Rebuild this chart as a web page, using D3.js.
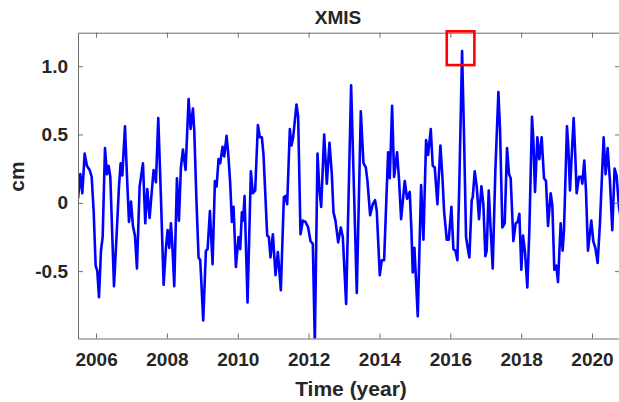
<!DOCTYPE html>
<html>
<head>
<meta charset="utf-8">
<script src="https://cdn.jsdelivr.net/npm/d3@7"></script>
<style>
  body { margin: 0; background: #fff; }
  svg { display: block; }
  .tick text { font-family: "Liberation Sans", Arial, sans-serif; font-weight: bold; fill: #262626; }
  .lbl { font-family: "Liberation Sans", Arial, sans-serif; font-weight: bold; fill: #262626; }
</style>
</head>
<body>
<script>
// XMIS anomaly series (decimal year, cm)
var years = [2005.490,2005.556,2005.612,2005.678,2005.744,2005.819,2005.876,2005.932,2005.988,2006.035,
  2006.082,2006.139,2006.186,2006.252,2006.308,2006.355,2006.402,2006.506,2006.581,2006.647,
  2006.694,2006.741,2006.816,2006.882,2006.929,2006.985,2007.041,2007.098,2007.154,2007.230,
  2007.324,2007.389,2007.446,2007.512,2007.568,2007.624,2007.690,2007.756,2007.831,2007.907,
  2007.972,2008.019,2008.066,2008.113,2008.151,2008.207,2008.283,2008.339,2008.395,2008.452,
  2008.527,2008.612,2008.668,2008.734,2008.772,2008.837,2008.894,2008.941,2009.025,2009.101,
  2009.148,2009.214,2009.289,2009.355,2009.402,2009.458,2009.505,2009.571,2009.618,2009.684,
  2009.731,2009.787,2009.834,2009.881,2009.947,2010.022,2010.069,2010.116,2010.154,2010.191,
  2010.276,2010.370,2010.427,2010.492,2010.568,2010.624,2010.680,2010.727,2010.831,2010.878,
  2010.925,2010.991,2011.066,2011.132,2011.216,2011.301,2011.348,2011.395,2011.470,2011.517,
  2011.564,2011.658,2011.705,2011.771,2011.837,2011.912,2011.987,2012.053,2012.119,2012.175,
  2012.251,2012.298,2012.354,2012.439,2012.514,2012.589,2012.655,2012.702,2012.758,2012.834,
  2012.909,2012.965,2013.059,2013.200,2013.360,2013.473,2013.548,2013.614,2013.661,2013.736,
  2013.812,2013.877,2013.924,2014.009,2014.065,2014.131,2014.244,2014.291,2014.357,2014.413,
  2014.498,2014.554,2014.611,2014.714,2014.780,2014.855,2014.902,2014.940,2014.987,2015.081,
  2015.175,2015.241,2015.316,2015.372,2015.448,2015.504,2015.560,2015.636,2015.720,2015.777,
  2015.824,2015.899,2015.956,2016.031,2016.087,2016.144,2016.200,2016.256,2016.332,2016.388,
  2016.444,2016.491,2016.538,2016.604,2016.633,2016.689,2016.745,2016.811,2016.877,2016.933,
  2016.990,2017.027,2017.084,2017.140,2017.197,2017.272,2017.357,2017.404,2017.469,2017.535,
  2017.601,2017.657,2017.704,2017.780,2017.845,2017.902,2017.949,2018.005,2018.052,2018.109,
  2018.174,2018.231,2018.306,2018.344,2018.391,2018.457,2018.513,2018.579,2018.645,2018.701,
  2018.758,2018.833,2018.880,2018.936,2018.993,2019.040,2019.115,2019.171,2019.209,2019.293,
  2019.331,2019.378,2019.416,2019.482,2019.529,2019.566,2019.632,2019.698,2019.726,2019.782,
  2019.829,2019.886,2019.980,2020.036,2020.093,2020.159,2020.224,2020.328,2020.384,2020.441,
  2020.506,2020.572,2020.638,2020.694,2020.760,2020.817];
var cm = [0.03,0.21,0.07,0.36,0.27,0.24,0.19,-0.06,-0.46,-0.50,
  -0.69,-0.35,-0.25,0.40,0.21,0.27,0.19,-0.61,-0.23,0.12,
  0.29,0.20,0.56,0.14,-0.14,0.01,-0.17,-0.24,-0.48,0.12,
  0.29,-0.15,0.10,-0.11,0.07,0.24,0.15,0.62,0.04,-0.60,
  -0.33,-0.20,-0.33,-0.15,-0.30,-0.61,0.18,-0.13,0.26,0.39,
  0.24,0.76,0.54,0.69,0.53,-0.01,-0.40,-0.42,-0.86,-0.35,
  -0.34,-0.06,-0.45,0.16,0.12,0.32,0.29,0.41,0.34,0.49,
  0.36,0.14,-0.14,-0.03,-0.47,-0.25,-0.34,-0.07,-0.13,0.05,
  -0.73,0.23,0.07,0.09,0.57,0.48,0.48,0.35,-0.24,-0.25,
  -0.40,-0.23,-0.53,-0.36,-0.64,0.04,0.05,-0.01,0.54,0.42,
  0.48,0.72,0.63,-0.23,-0.13,-0.14,-0.18,-0.28,-0.30,-1.03,
  0.36,0.12,-0.03,0.50,0.14,0.44,0.21,-0.07,-0.13,-0.29,
  -0.18,-0.25,-0.74,0.86,-0.66,0.67,0.29,0.26,0.16,-0.09,
  -0.01,0.02,-0.06,-0.53,-0.42,-0.42,0.37,0.18,0.71,0.19,
  0.37,0.16,-0.12,0.16,0.03,0.08,-0.20,-0.51,-0.33,-0.83,
  0.13,-0.27,0.46,0.35,0.54,0.27,0.26,-0.01,0.42,0.19,
  -0.06,-0.27,-0.27,-0.03,-0.34,-0.35,-0.42,0.16,1.11,0.48,
  -0.25,-0.33,-0.40,0.02,0.04,0.23,0.12,-0.12,0.12,-0.01,
  -0.39,-0.35,0.09,-0.20,-0.48,0.24,0.81,0.53,-0.18,-0.15,
  0.40,0.21,0.18,-0.28,-0.15,-0.14,-0.08,-0.49,-0.24,-0.36,
  -0.62,-0.20,0.63,0.46,0.08,0.48,0.32,0.48,0.18,0.16,
  -0.17,0.07,-0.02,-0.49,-0.46,-0.58,-0.15,-0.35,-0.20,0.56,
  0.41,0.09,0.29,0.62,0.34,0.07,0.19,0.19,0.14,0.31,
  0.09,-0.35,-0.13,-0.28,-0.33,-0.44,-0.15,0.48,0.21,0.40,
  0.16,-0.20,0.25,0.20,-0.03,-0.12];

var xTicks = [2006, 2008, 2010, 2012, 2014, 2016, 2018, 2020];
var yTicks = [-0.5, 0, 0.5, 1.0];
var yTickLabels = ["-0.5", "0", "0.5", "1.0"];
var highlight = {x0: 2015.90, x1: 2016.68, y0: 1.008, y1: 1.255};  // red box round the 2016 peak

var W = 619, H = 402;
var margin = {left: 78, right: -1, top: 32.7, bottom: 63.5};
var width = W - margin.left - margin.right,
    height = H - margin.top - margin.bottom;

var svg = d3.select("body").append("svg")
    .attr("width", W).attr("height", H)
  .append("g")
    .attr("transform", "translate(" + margin.left + "," + margin.top + ")");

var x = d3.scaleLinear().domain([2005.49, 2020.79]).range([0, width]);
var y = d3.scaleLinear().domain([-0.993, 1.245]).range([height, 0]);

svg.append("clipPath").attr("id", "plotclip")
  .append("rect").attr("width", width).attr("height", height);

//-- data line
var pts = years.map(function(t, i) { return [t, cm[i]]; });
svg.append("path")
    .datum(pts)
    .attr("clip-path", "url(#plotclip)")
    .attr("fill", "none")
    .attr("stroke", "#0000ff")
    .attr("stroke-width", 2.6)
    .attr("stroke-linejoin", "round")
    .attr("d", d3.line().x(function(d) { return x(d[0]); }).y(function(d) { return y(d[1]); }));

//-- axes (MATLAB style box, ticks inside)
var axColor = "#6e6e6e";
var xb = svg.append("g").attr("class", "xaxis")
    .attr("transform", "translate(0," + height + ")")
    .call(d3.axisBottom(x).tickValues(xTicks).tickFormat(d3.format("d")).tickSizeInner(-5).tickSizeOuter(0).tickPadding(14));
xb.selectAll("text").style("font-size", "19px");

var xt = svg.append("g").attr("class", "xaxis-top")
    .call(d3.axisTop(x).tickValues(xTicks).tickFormat("").tickSizeInner(-5).tickSizeOuter(0));

var yl = svg.append("g").attr("class", "yaxis")
    .call(d3.axisLeft(y).tickValues(yTicks).tickFormat(function(d, i) { return yTickLabels[i]; })
      .tickSizeInner(-5).tickSizeOuter(0).tickPadding(10));
yl.selectAll("text").style("font-size", "19px");

var yr = svg.append("g").attr("class", "yaxis-right")
    .attr("transform", "translate(" + width + ",0)")
    .call(d3.axisRight(y).tickValues(yTicks).tickFormat("").tickSizeInner(-5).tickSizeOuter(0));

svg.selectAll(".domain").attr("stroke", axColor);
svg.selectAll(".tick line").attr("stroke", axColor);

//-- highlight box
svg.append("rect")
    .attr("x", x(highlight.x0))
    .attr("y", y(highlight.y1))
    .attr("width", x(highlight.x1) - x(highlight.x0))
    .attr("height", y(highlight.y0) - y(highlight.y1))
    .attr("fill", "none")
    .attr("stroke", "#ff0000")
    .attr("stroke-width", 2.6);

//-- titles
svg.append("text").attr("class", "lbl")
    .attr("x", 260).attr("y", -9)
    .attr("text-anchor", "middle")
    .style("font-size", "19px")
    .text("XMIS");

svg.append("text").attr("class", "lbl")
    .attr("x", width / 2 + 2).attr("y", height + 58)
    .attr("text-anchor", "middle")
    .style("font-size", "21px")
    .text("Time (year)");

svg.append("text").attr("class", "lbl")
    .attr("transform", "rotate(-90)")
    .attr("x", -height / 2 + 9).attr("y", -54)
    .attr("text-anchor", "middle")
    .style("font-size", "21px")
    .text("cm");
</script>
</body>
</html>
